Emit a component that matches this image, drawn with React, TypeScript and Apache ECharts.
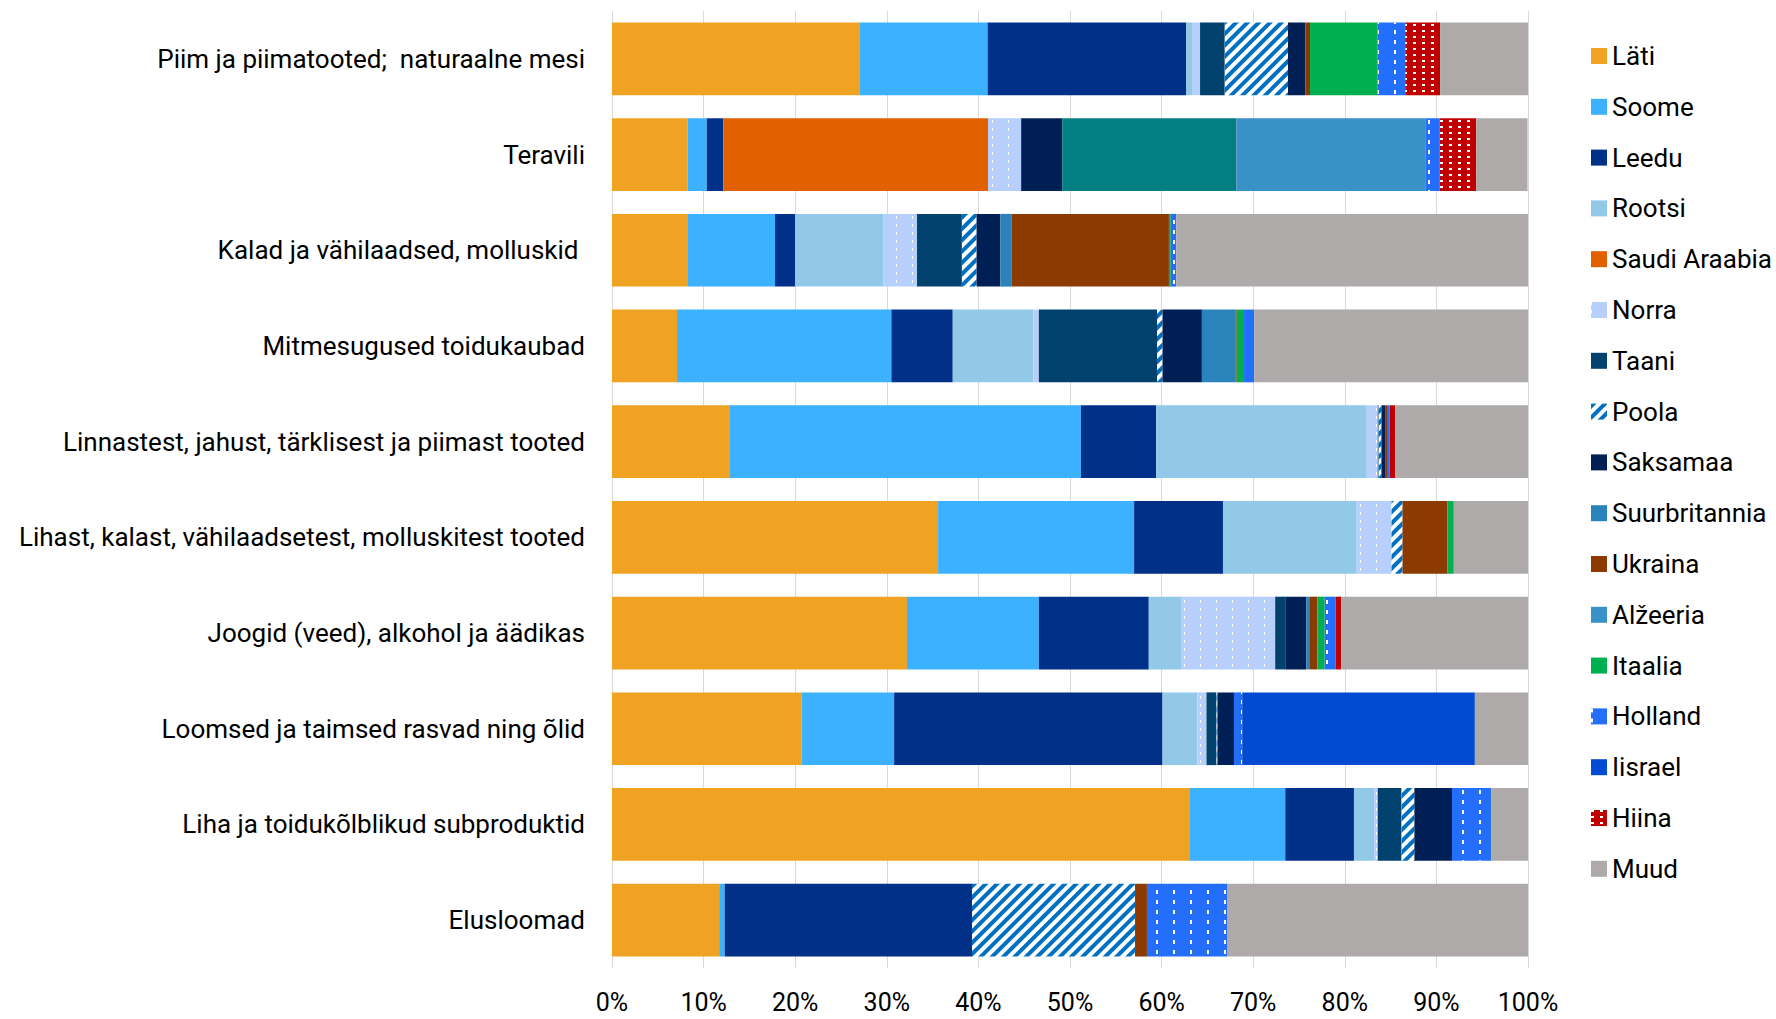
import React, { useEffect, useRef } from "react";
import * as echarts from "echarts";

const categories = [
  "Piim ja piimatooted;  naturaalne mesi",
  "Teravili",
  "Kalad ja vähilaadsed, molluskid ",
  "Mitmesugused toidukaubad",
  "Linnastest, jahust, tärklisest ja piimast tooted",
  "Lihast, kalast, vähilaadsetest, molluskitest tooted",
  "Joogid (veed), alkohol ja äädikas",
  "Loomsed ja taimsed rasvad ning õlid",
  "Liha ja toidukõlblikud subproduktid",
  "Elusloomad",
];

const xTicks = [0, 10, 20, 30, 40, 50, 60, 70, 80, 90, 100];

const lati = [27.0, 8.25, 8.3, 7.1, 12.8, 35.6, 32.2, 20.7, 63.1, 11.7];
const soome = [14.0, 2.1, 9.5, 23.4, 38.4, 21.4, 14.4, 10.1, 10.4, 0.6];
const leedu = [21.7, 1.8, 2.2, 6.7, 8.2, 9.7, 12.0, 29.3, 7.5, 27.0];
const rootsi = [0.7, 0, 9.6, 8.8, 23.0, 14.6, 3.6, 3.8, 2.2, 0];
const saudi = [0, 28.9, 0, 0, 0, 0, 0, 0, 0, 0];
const norra = [0.8, 3.6, 3.7, 0.6, 1.2, 3.8, 10.2, 1.0, 0.4, 0];
const taani = [2.7, 0.1, 4.9, 12.9, 0.1, 0, 1.1, 1.1, 2.6, 0];
const poola = [6.9, 0, 1.6, 0.6, 0.3, 1.2, 0, 0.1, 1.4, 17.8];
const saksamaa = [1.9, 4.4, 2.6, 4.3, 0.4, 0, 2.3, 1.8, 4.1, 0];
const suurbritannia = [0, 0, 1.2, 3.7, 0, 0, 0.4, 0, 0, 0];
const ukraina = [0.5, 0, 17.2, 0.1, 0.3, 4.9, 0.8, 0, 0, 1.3];
const muuTeal = [0, 19.0, 0, 0, 0, 0, 0, 0, 0, 0];
const alzeeria = [0, 20.7, 0, 0, 0, 0, 0, 0, 0, 0];
const itaalia = [7.4, 0, 0.2, 0.8, 0, 0.7, 0.8, 0, 0, 0];
const holland = [3.0, 1.5, 0.6, 1.1, 0.2, 0, 1.2, 0.9, 4.3, 8.8];
const iisrael = [0, 0, 0, 0, 0, 0, 0, 25.4, 0, 0];
const hiina = [3.8, 4.0, 0, 0, 0.6, 0, 0.6, 0, 0, 0];
const muud = [9.6, 5.6, 38.4, 29.9, 14.5, 8.1, 20.4, 5.8, 4.0, 32.8];

const legendNames = [
  "Läti", "Soome", "Leedu", "Rootsi", "Saudi Araabia", "Norra", "Taani", "Poola",
  "Saksamaa", "Suurbritannia", "Ukraina", "Alžeeria", "Itaalia", "Holland",
  "Iisrael", "Hiina", "Muud",
];

const FONT = "Roboto, 'Noto Sans', sans-serif";

export default function App() {
  const ref = useRef<HTMLDivElement>(null);
  useEffect(() => {
    if (!ref.current) return;
    const chart = echarts.init(ref.current, undefined, { renderer: "svg" });

    const mk = (name: string, data: number[], color: string, decal?: any) => ({
      name,
      type: "bar",
      stack: "total",
      barCategoryGap: "24%",
      data,
      itemStyle: decal ? { color, decal } : { color },
      emphasis: { disabled: true },
    });

    const norraDecal = { symbol: "rect", symbolSize: 1, color: "#ffffff", dashArrayX: [1, 15], dashArrayY: [3, 5] };
    const hollandDecal = { symbol: "rect", symbolSize: 1, color: "#ffffff", dashArrayX: [1.5, 15], dashArrayY: [4, 6] };
    const hiinaDecal = { symbol: "rect", symbolSize: 1, color: "#ffffff", dashArrayX: [3, 6], dashArrayY: [2, 4] };
    const poolaDecal = { symbol: "rect", symbolSize: 1, color: "#0070c0", dashArrayX: [1, 0], dashArrayY: [3.5, 3.5], rotation: -Math.PI / 4 };

    const series = [
      mk("Läti", lati, "#f0a323"),
      mk("Soome", soome, "#3bb1ff"),
      mk("Leedu", leedu, "#003087"),
      mk("Rootsi", rootsi, "#92c8e8"),
      mk("Saudi Araabia", saudi, "#e36000"),
      mk("Norra", norra, "#b7cffb", norraDecal),
      mk("Taani", taani, "#00416e"),
      mk("Poola", poola, "#ffffff", poolaDecal),
      mk("Saksamaa", saksamaa, "#001f55"),
      mk("Suurbritannia", suurbritannia, "#2a83ba"),
      mk("Ukraina", ukraina, "#8b3a00"),
      mk("Muu", muuTeal, "#008080"),
      mk("Alžeeria", alzeeria, "#3a91c6"),
      mk("Itaalia", itaalia, "#00af50"),
      mk("Holland", holland, "#236ffb", hollandDecal),
      mk("Iisrael", iisrael, "#004bd2"),
      mk("Hiina", hiina, "#c00000", hiinaDecal),
      mk("Muud", muud, "#aeaaaa"),
    ];

    chart.setOption({
      animation: false,
      backgroundColor: "#ffffff",
      textStyle: { fontFamily: FONT },
      grid: { left: 612, top: 11, width: 916, height: 957 },
      legend: {
        data: legendNames,
        orient: "vertical",
        left: 1586,
        top: 38,
        icon: "rect",
        itemWidth: 16,
        itemHeight: 16,
        itemGap: 24.8,
        textStyle: { fontSize: 26, color: "#000", fontFamily: FONT, lineHeight: 26 },
        selectedMode: false,
      },
      xAxis: {
        type: "value",
        min: xTicks[0],
        max: xTicks[xTicks.length - 1],
        interval: xTicks[1] - xTicks[0],
        axisLine: { show: false },
        axisTick: { show: false },
        splitLine: { show: true, lineStyle: { color: "#d9d9d9", width: 1 } },
        axisLabel: { formatter: "{value}%", fontSize: 25, lineHeight: 25, color: "#000", margin: 22, fontFamily: FONT },
      },
      yAxis: {
        type: "category",
        data: categories,
        inverse: true,
        axisLine: { show: false },
        axisTick: { show: false },
        axisLabel: { fontSize: 26, color: "#000", margin: 27, fontFamily: FONT },
      },
      series,
    });
    return () => chart.dispose();
  }, []);
  return (
    <div
      ref={ref}
      style={{ position: "fixed", left: 0, top: 0, width: 1776, height: 1019, background: "#fff" }}
    />
  );
}
